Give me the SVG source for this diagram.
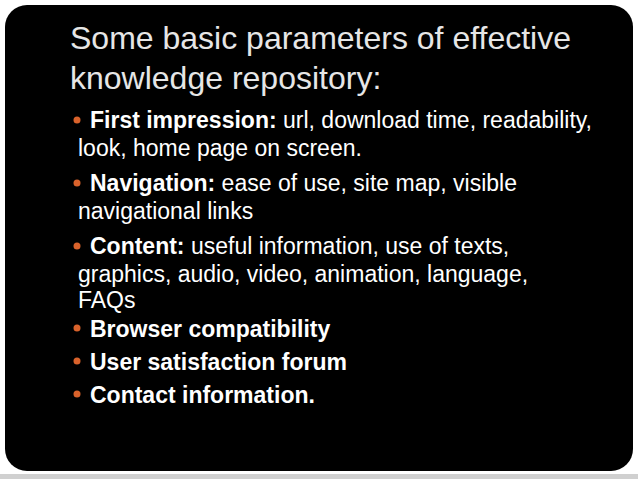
<svg xmlns="http://www.w3.org/2000/svg" width="638" height="479" viewBox="0 0 638 479">
<style>
.t{font-family:"Liberation Sans",Arial,sans-serif;font-size:32px;fill:#e6e6e6}
.b{font-family:"Liberation Sans",Arial,sans-serif;font-size:23px;fill:#fff}
.k{font-weight:bold}
.d{fill:#d9622b}
</style>
<rect width="638" height="479" fill="#fff"/>
<rect x="0" y="474" width="638" height="5" fill="#d0d0d0"/>
<rect x="5" y="5" width="628" height="466" rx="22" fill="#000"/>
<text class="t" x="70" y="49">Some basic parameters of effective</text>
<text class="t" x="70" y="89">knowledge repository:</text>
<g class="d">
<circle cx="77" cy="120" r="3.5"/><circle cx="77" cy="183" r="3.5"/><circle cx="77" cy="246" r="3.5"/>
<circle cx="77" cy="328" r="3.5"/><circle cx="77" cy="361" r="3.5"/><circle cx="77" cy="394" r="3.5"/>
</g>
<text class="b" x="90" y="128"><tspan class="k">First impression:</tspan> url, download time, readability,</text>
<text class="b" x="78" y="156">look, home page on screen.</text>
<text class="b" x="90" y="191"><tspan class="k">Navigation:</tspan> ease of use, site map, visible</text>
<text class="b" x="78" y="219">navigational links</text>
<text class="b" x="90" y="254"><tspan class="k">Content:</tspan> useful information, use of texts,</text>
<text class="b" x="78" y="282">graphics, audio, video, animation, language,</text>
<text class="b" x="78" y="308">FAQs</text>
<text class="b k" x="90" y="337">Browser compatibility</text>
<text class="b k" x="90" y="370">User satisfaction forum</text>
<text class="b k" x="90" y="403">Contact information.</text>
</svg>
